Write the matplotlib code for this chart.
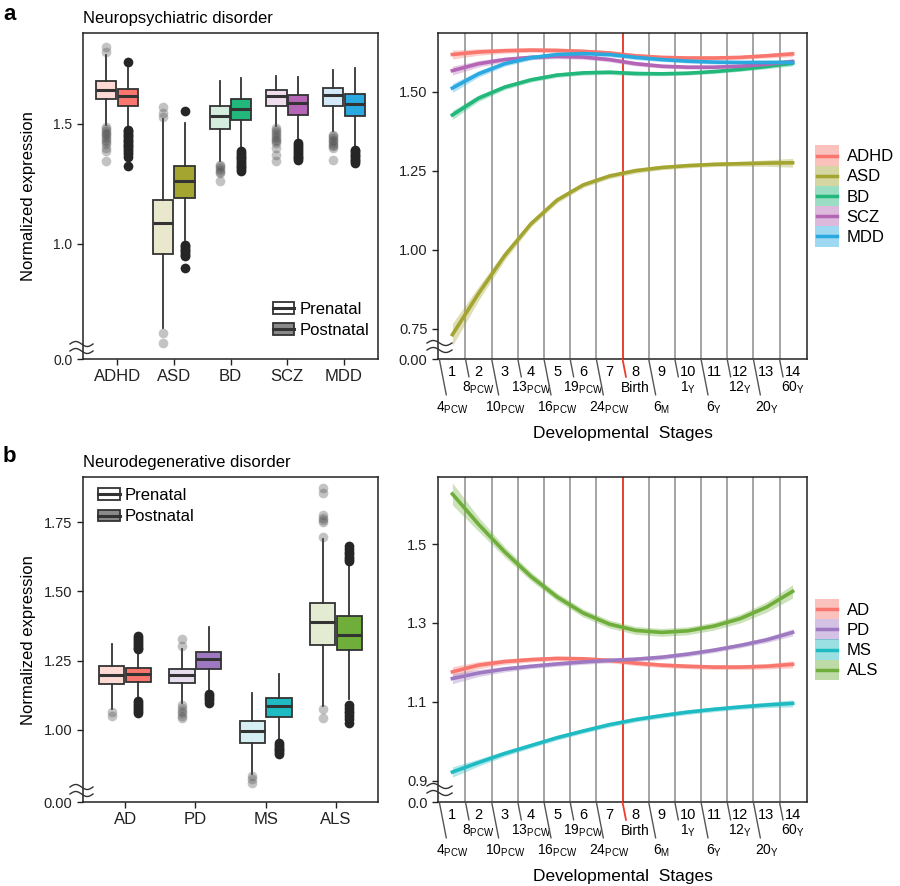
import numpy as np
import matplotlib
matplotlib.use('Agg')
import matplotlib.pyplot as plt
from matplotlib.patches import Rectangle, Patch
from matplotlib.lines import Line2D
from matplotlib.legend_handler import HandlerBase

plt.rcParams['font.family'] = ['Liberation Sans', 'DejaVu Sans']
plt.rcParams['mathtext.fontset'] = 'custom'
plt.rcParams['mathtext.rm'] = 'Liberation Sans'

# ---------------- data ----------------
psych = ['ADHD', 'ASD', 'BD', 'SCZ', 'MDD']
# (q1, median, q3, whisker low, whisker high)
psych_pre = [(1.603, 1.642, 1.679, 1.496, 1.787),
             (0.957, 1.085, 1.181, 0.649, 1.520),
             (1.479, 1.533, 1.575, 1.343, 1.679),
             (1.572, 1.614, 1.639, 1.492, 1.697),
             (1.572, 1.618, 1.649, 1.468, 1.725)]
psych_post = [(1.575, 1.617, 1.646, 1.482, 1.732),
              (1.190, 1.260, 1.325, 1.017, 1.503),
              (1.517, 1.5625, 1.604, 1.399, 1.690),
              (1.5375, 1.586, 1.618, 1.426, 1.694),
              (1.531, 1.583, 1.624, 1.406, 1.732)]
psych_pre_out = [[1.80, 1.82, 1.487, 1.478, 1.47, 1.463, 1.456, 1.449, 1.441, 1.433, 1.425, 1.415, 1.40, 1.385, 1.343],
                 [1.527, 1.545, 1.569, 0.628, 0.586],
                 [1.329, 1.322, 1.315, 1.308, 1.30, 1.294, 1.2625],
                 [1.482, 1.474, 1.466, 1.458, 1.45, 1.442, 1.434, 1.426, 1.419, 1.399, 1.371, 1.343],
                 [1.454, 1.447, 1.44, 1.433, 1.426, 1.419, 1.412, 1.405, 1.399, 1.35]]
psych_post_out = [[1.756, 1.475, 1.468, 1.461, 1.454, 1.447, 1.44, 1.433, 1.426, 1.419, 1.412, 1.405, 1.398, 1.39, 1.382, 1.372, 1.362, 1.322],
                  [1.554, 0.996, 0.99, 0.983, 0.975, 0.968, 0.96, 0.953, 0.947, 0.899],
                  [1.385, 1.377, 1.37, 1.362, 1.355, 1.348, 1.34, 1.333, 1.325, 1.318, 1.31, 1.301],
                  [1.419, 1.411, 1.403, 1.395, 1.387, 1.379, 1.371, 1.363, 1.355, 1.35],
                  [1.392, 1.385, 1.378, 1.371, 1.364, 1.357, 1.35, 1.343, 1.336]]
psych_pre_cols = ['#FDDAD3', '#E9E7CC', '#D5EDDF', '#EFDDEE', '#D4E9F7']
psych_cols = ['#F8766D', '#A3A530', '#22B77B', '#B565B5', '#2AA9E0']

degen = ['AD', 'PD', 'MS', 'ALS']
degen_pre = [(1.165, 1.198, 1.231, 1.077, 1.309),
             (1.171, 1.198, 1.219, 1.099, 1.291),
             (0.954, 0.996, 1.032, 0.840, 1.135),
             (1.305, 1.389, 1.459, 1.087, 1.688)]
degen_post = [(1.174, 1.201, 1.222, 1.110, 1.285),
              (1.221, 1.257, 1.282, 1.141, 1.371),
              (1.048, 1.087, 1.117, 0.966, 1.203),
              (1.287, 1.343, 1.411, 1.113, 1.597)]
degen_pre_out = [[1.065, 1.05],
                 [1.327, 1.303, 1.089, 1.08, 1.07, 1.06, 1.052, 1.044],
                 [0.834, 0.822, 0.81],
                 [1.697, 1.75, 1.758, 1.766, 1.775, 1.856, 1.874, 1.075, 1.044]]
degen_post_out = [[1.339, 1.332, 1.325, 1.318, 1.311, 1.304, 1.297, 1.291, 1.105, 1.098, 1.091, 1.084, 1.077, 1.07, 1.062],
                  [1.129, 1.122, 1.115, 1.108, 1.099],
                  [0.954, 0.947, 0.94, 0.933, 0.926, 0.919, 0.912],
                  [1.609, 1.617, 1.625, 1.634, 1.643, 1.652, 1.663, 1.089, 1.08, 1.07, 1.06, 1.05, 1.04, 1.026]]
degen_pre_cols = ['#FDDAD3', '#E7DDEE', '#D5EFF2', '#E3EBD2']
degen_cols = ['#F8766D', '#9E79C1', '#1FBBC3', '#6FAE3A']

stages = np.arange(1, 15)
age_labels = ['4$_{\\mathrm{PCW}}$', '8$_{\\mathrm{PCW}}$', '10$_{\\mathrm{PCW}}$', '13$_{\\mathrm{PCW}}$',
              '16$_{\\mathrm{PCW}}$', '19$_{\\mathrm{PCW}}$', '24$_{\\mathrm{PCW}}$', 'Birth',
              '6$_{\\mathrm{M}}$', '1$_{\\mathrm{Y}}$', '6$_{\\mathrm{Y}}$', '12$_{\\mathrm{Y}}$',
              '20$_{\\mathrm{Y}}$', '60$_{\\mathrm{Y}}$']

adhd = [1.617, 1.625, 1.629, 1.631, 1.630, 1.627, 1.622, 1.613, 1.608, 1.606, 1.606, 1.608, 1.613, 1.619]
asd = [0.732, 0.862, 0.982, 1.082, 1.157, 1.205, 1.233, 1.250, 1.260, 1.266, 1.270, 1.272, 1.274, 1.275]
bd = [1.426, 1.479, 1.514, 1.537, 1.552, 1.559, 1.561, 1.557, 1.556, 1.558, 1.563, 1.570, 1.579, 1.590]
scz = [1.566, 1.588, 1.601, 1.608, 1.611, 1.609, 1.601, 1.588, 1.580, 1.577, 1.577, 1.580, 1.586, 1.595]
mdd = [1.511, 1.556, 1.588, 1.607, 1.617, 1.620, 1.617, 1.608, 1.601, 1.596, 1.593, 1.592, 1.592, 1.592]
se_psych = [0.014, 0.010, 0.008, 0.007, 0.007, 0.007, 0.007, 0.007, 0.006, 0.006, 0.006, 0.006, 0.007, 0.009]
se_asd = [0.035, 0.022, 0.014, 0.010, 0.009, 0.008, 0.008, 0.008, 0.007, 0.007, 0.007, 0.008, 0.010, 0.014]

ad = [1.176, 1.193, 1.202, 1.207, 1.210, 1.209, 1.205, 1.198, 1.193, 1.190, 1.188, 1.188, 1.190, 1.195]
pd_ = [1.159, 1.173, 1.183, 1.190, 1.196, 1.201, 1.205, 1.208, 1.213, 1.221, 1.231, 1.243, 1.257, 1.276]
ms = [0.922, 0.946, 0.969, 0.989, 1.009, 1.026, 1.042, 1.055, 1.065, 1.074, 1.081, 1.087, 1.092, 1.096]
als = [1.627, 1.550, 1.480, 1.418, 1.366, 1.325, 1.297, 1.281, 1.276, 1.280, 1.292, 1.311, 1.340, 1.380]
se_degen = [0.013, 0.009, 0.007, 0.006, 0.006, 0.006, 0.006, 0.006, 0.006, 0.006, 0.006, 0.006, 0.007, 0.009]
se_als = [0.028, 0.018, 0.013, 0.011, 0.010, 0.010, 0.010, 0.010, 0.010, 0.010, 0.010, 0.011, 0.013, 0.017]

# ---------------- layout ----------------
W, H = 900, 886
fig = plt.figure(figsize=(W / 100, H / 100), dpi=100)
DARK = '#333333'


def add_ax(x0, y0, x1, y1, ticksize):
    ax = fig.add_axes([x0 / W, 1 - y1 / H, (x1 - x0) / W, (y1 - y0) / H])
    ax.size_px = (x1 - x0, y1 - y0)
    for s in ax.spines.values():
        s.set_linewidth(1.1)
        s.set_color('#222222')
    ax.tick_params(direction='out', length=4, width=1, color='#222222',
                   labelsize=ticksize, labelcolor='#222222')
    return ax


def draw_break(ax, dx0, dx1, dys):
    w, h = ax.size_px
    xs = np.linspace(dx0, dx1, 40)
    for dy in dys:
        ys = dy + 2.5 * np.sin((xs - dx0) / (dx1 - dx0) * 2 * np.pi)
        ax.plot(xs / w, ys / h, transform=ax.transAxes, clip_on=False,
                color=DARK, lw=1.0, zorder=5)


class BoxKey(HandlerBase):
    def create_artists(self, legend, orig, xd, yd, w, h, fs, trans):
        r = Rectangle((-xd, -yd), w, h, facecolor=orig.get_facecolor(),
                      edgecolor=DARK, lw=1.3, transform=trans)
        ln = Line2D([-xd, -xd + w], [-yd + h / 2] * 2, color=DARK, lw=2.2, transform=trans)
        return [r, ln]


class RibbonKey(HandlerBase):
    def create_artists(self, legend, orig, xd, yd, w, h, fs, trans):
        c = orig.get_edgecolor()
        r = Rectangle((-xd, -yd), w, h, facecolor=c, alpha=0.45, lw=0, transform=trans)
        ln = Line2D([-xd + 0.1 * w, -xd + 0.9 * w], [-yd + h / 2] * 2, color=c,
                    lw=2.5, transform=trans)
        return [r, ln]


def draw_boxes(ax, names, pre, post, pre_out, post_out, pre_cols, post_cols):
    pos = np.arange(1, len(names) + 1)
    groups = [(pre, pre_out, pre_cols, -0.19, '#555555', 0.35),
              (post, post_out, post_cols, 0.19, '#262626', 1.0)]
    for stats, outs, cols, off, fc, al in groups:
        st = [dict(q1=s[0], med=s[1], q3=s[2], whislo=s[3], whishi=s[4], fliers=o)
              for s, o in zip(stats, outs)]
        bp = ax.bxp(st, positions=pos + off, widths=0.36, patch_artist=True,
                    showcaps=False, manage_ticks=False,
                    boxprops=dict(edgecolor=DARK, linewidth=1.3),
                    whiskerprops=dict(color=DARK, linewidth=1.3),
                    medianprops=dict(color=DARK, linewidth=2.2),
                    flierprops=dict(marker='o', markersize=7, markerfacecolor=fc,
                                    markeredgecolor='none', alpha=al))
        for patch, c in zip(bp['boxes'], cols):
            patch.set_facecolor(c)
    ax.set_xticks(pos)
    ax.set_xticklabels(names, fontsize=12)
    ax.set_xlim(0.4, len(names) + 0.6)


def draw_stage_axis(ax):
    for k in stages[:-1]:
        ax.axvline(k + 0.5, color='#8C8C8C', lw=1.1, zorder=1)
    ax.axvline(7.5, color='#F03C28', lw=1.3, zorder=1.5)
    ax.set_xlim(0.45, 14.55)
    ax.set_xticks([])
    xt = ax.get_xaxis_transform()
    for k in stages:
        long_tick = k % 2 == 1
        dx, dy = (7, 36) if long_tick else (3.5, 18)
        ax.annotate('', xy=(k - 0.5, 0), xycoords=xt, xytext=(dx, -dy),
                    textcoords='offset pixels',
                    arrowprops=dict(arrowstyle='-', color='#F03C28' if k == 8 else '#555555',
                                    lw=1.0 if k != 8 else 1.3, shrinkA=0, shrinkB=0))
        ax.annotate(str(k), xy=(k, 0), xycoords=xt, xytext=(0, -17),
                    textcoords='offset pixels', ha='center', va='baseline', fontsize=10.5)
        ax.annotate(age_labels[k - 1], xy=(k, 0), xycoords=xt,
                    xytext=(0, -53 if long_tick else -33),
                    textcoords='offset pixels', ha='center', va='baseline', fontsize=10)
    ax.annotate('Developmental  Stages', xy=(0.5, 0), xycoords='axes fraction',
                xytext=(0, -79), textcoords='offset pixels', ha='center',
                va='baseline', fontsize=12.5)


def draw_lines(ax, series, ses, cols, names):
    for v, se, c in zip(series, ses, cols):
        v = np.array(v)
        se = np.array(se)
        ax.fill_between(stages, v - se, v + se, color=c, alpha=0.35, lw=0, zorder=2)
        ax.plot(stages, v, color=c, lw=2.6, zorder=3, solid_joinstyle='round')
    handles = [Patch(edgecolor=c) for c in cols]
    fs = 12
    px = fs * 100 / 72
    ax.legend(handles, names, handler_map={Patch: RibbonKey()}, loc='center left',
              bbox_to_anchor=(1 + 8 / ax.size_px[0], 0.5), frameon=False, fontsize=fs,
              handlelength=24 / px, handleheight=24.8 / px, labelspacing=0,
              handletextpad=0.45, borderpad=0, borderaxespad=0)


# ---------------- panel a ----------------
ax1 = add_ax(83, 33, 378, 359, 10)
draw_boxes(ax1, psych, psych_pre, psych_post, psych_pre_out, psych_post_out,
           psych_pre_cols, psych_cols)
ax1.set_ylim(0.519, 1.878)
ax1.set_yticks([0.519, 1.0, 1.5])
ax1.set_yticklabels(['0.0', '1.0', '1.5'])
draw_break(ax1, -13, 10, [15, 8])
ax1.legend([Patch(facecolor='white'), Patch(facecolor='#8A8A8A')],
           ['Prenatal', 'Postnatal'], handler_map={Patch: BoxKey()},
           loc='lower right', bbox_to_anchor=(1 - 9 / 295, 21 / 326),
           frameon=False, fontsize=12, handlelength=1.3, handleheight=0.72,
           labelspacing=0.38, handletextpad=0.3, borderpad=0, borderaxespad=0)

ax2 = add_ax(438, 33, 807, 359, 10.5)
draw_lines(ax2, [adhd, asd, bd, scz, mdd],
           [se_psych, se_asd, se_psych, se_psych, se_psych], psych_cols, psych)
ax2.set_ylim(0.655, 1.685)
ax2.set_yticks([0.655, 0.75, 1.0, 1.25, 1.5])
ax2.set_yticklabels(['0.00', '0.75', '1.00', '1.25', '1.50'])
draw_stage_axis(ax2)
draw_break(ax2, -11, 14, [16, 9])

# ---------------- panel b ----------------
ax3 = add_ax(83, 477, 378, 802, 10.5)
draw_boxes(ax3, degen, degen_pre, degen_post, degen_pre_out, degen_post_out,
           degen_pre_cols, degen_cols)
ax3.set_ylim(0.740, 1.913)
ax3.set_yticks([0.740, 1.0, 1.25, 1.5, 1.75])
ax3.set_yticklabels(['0.00', '1.00', '1.25', '1.50', '1.75'])
draw_break(ax3, -13, 10, [15, 8])
ax3.legend([Patch(facecolor='white'), Patch(facecolor='#8A8A8A')],
           ['Prenatal', 'Postnatal'], handler_map={Patch: BoxKey()},
           loc='upper left', bbox_to_anchor=(15 / 295, 1 - 11 / 325),
           frameon=False, fontsize=12, handlelength=1.3, handleheight=0.72,
           labelspacing=0.38, handletextpad=0.3, borderpad=0, borderaxespad=0)

ax4 = add_ax(438, 477, 807, 802, 10.5)
draw_lines(ax4, [ad, pd_, ms, als], [se_degen, se_degen, se_degen, se_als], degen_cols, degen)
ax4.set_ylim(0.846, 1.670)
ax4.set_yticks([0.846, 0.9, 1.1, 1.3, 1.5])
ax4.set_yticklabels(['0.0', '0.9', '1.1', '1.3', '1.5'])
draw_stage_axis(ax4)
draw_break(ax4, -11, 14, [16, 9])

# ---------------- labels ----------------
fig.text(3 / W, 1 - 20 / H, 'a', fontsize=16, fontweight='bold', va='baseline')
fig.text(3 / W, 1 - 462 / H, 'b', fontsize=16, fontweight='bold', va='baseline')
fig.text(83 / W, 1 - 23 / H, 'Neuropsychiatric disorder', fontsize=12, va='baseline')
fig.text(83 / W, 1 - 467 / H, 'Neurodegenerative disorder', fontsize=12, va='baseline')
fig.text(29 / W, 1 - 196 / H, 'Normalized expression', fontsize=12, rotation=90,
         ha='center', va='center')
fig.text(29 / W, 1 - 640 / H, 'Normalized expression', fontsize=12, rotation=90,
         ha='center', va='center')

fig.savefig('out.png', dpi=100)
